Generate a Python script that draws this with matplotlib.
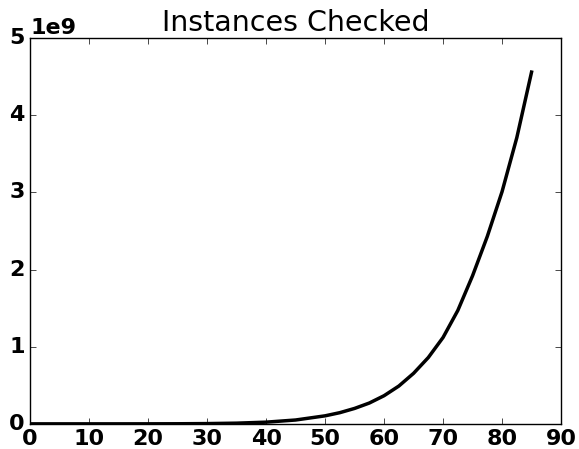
import matplotlib
matplotlib.use('Agg')
import matplotlib.pyplot as plt

# Instances checked as the problem size grows
sizes = [0, 5, 10, 15, 20, 25, 30, 35, 40, 45, 50, 52.5, 55, 57.5, 60, 62.5,
         65, 67.5, 70, 72.5, 75, 77.5, 80, 82.5, 85]
instances = [0, 0, 0.00005e9, 0.0001e9, 0.0004e9, 0.0012e9, 0.0035e9,
             0.009e9, 0.022e9, 0.05e9, 0.104e9, 0.145e9, 0.20e9, 0.27e9,
             0.365e9, 0.49e9, 0.655e9, 0.86e9, 1.12e9, 1.47e9, 1.92e9,
             2.43e9, 3.01e9, 3.71e9, 4.56e9]

plt.style.use('classic')
plt.rcParams['font.weight'] = 'bold'
plt.rcParams['font.size'] = 16

fig = plt.figure(figsize=(5.79, 4.49), dpi=100, facecolor='white')
ax = fig.add_axes([0.052, 0.056, 0.917, 0.859])

ax.plot(sizes, instances, color='black', linewidth=2.5)
ax.set_xlim(0, 90)
ax.set_ylim(0, 5e9)
ax.set_title('Instances Checked', fontsize=20.5, fontweight='normal')

fig.savefig('out.png', dpi=100, facecolor='white')
